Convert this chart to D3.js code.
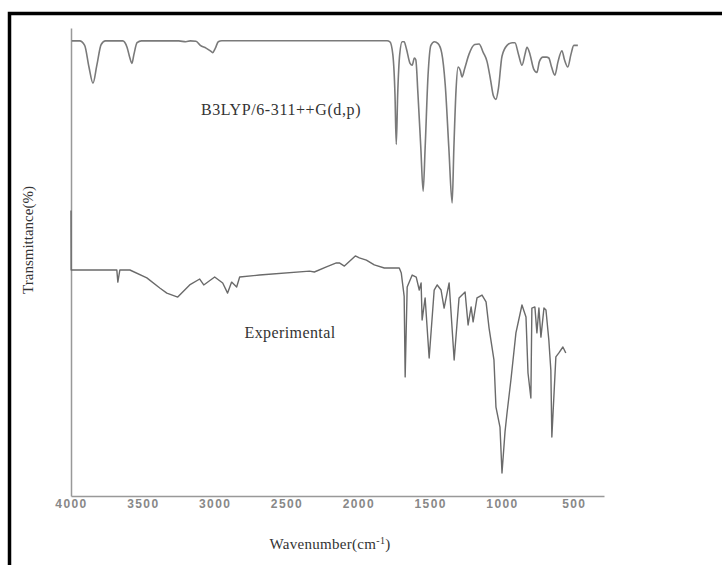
<!DOCTYPE html>
<html>
<head>
<meta charset="utf-8">
<script src="https://cdn.jsdelivr.net/npm/d3@7"></script>
<style>
  body { margin: 0; background: #fff; }
  .tick text { font-family: "Liberation Sans", Arial, sans-serif; font-weight: bold; font-size: 12px; letter-spacing: 1.4px; fill: #888; }
  .lbl { font-family: "Liberation Serif", "Times New Roman", serif; fill: #333; }
</style>
</head>
<body>
<script>
// wavenumber ticks
var xTicks = [4000, 3500, 3000, 2500, 2000, 1500, 1000, 500];

// B3LYP/6-311++G(d,p) computed spectrum: wavenumber, transmittance (%)
var calcWn = [3995, 3940, 3905, 3875, 3847, 3820, 3790, 3760, 3640, 3610, 3590, 3576, 3562, 3540, 3510,
  3250, 3200, 3170, 3130, 3100, 3060, 3030, 3014, 2995, 2975, 2950, 1800,
  1780, 1760, 1745, 1736, 1726, 1712, 1695, 1681, 1665, 1640, 1625, 1610, 1600, 1585, 1565, 1549, 1535, 1515, 1495,
  1470, 1445, 1420, 1395, 1370, 1347, 1335, 1320, 1306, 1290, 1278, 1260, 1230, 1190, 1160, 1130, 1104, 1080, 1060,
  1042, 1025, 1000, 965, 930, 910, 885, 861, 840, 826, 805, 780, 757, 740, 715, 690, 674, 655, 632, 610, 583, 565,
  542, 520, 500, 472];
var calcT = [99.5, 99.5, 97, 85, 76, 86, 97.5, 99.5, 99.5, 96, 90, 87, 92, 98.5, 99.5,
  99.5, 99, 99.5, 99.3, 97, 95.5, 94, 93, 95.5, 99, 99.6, 99.6,
  99, 92, 70, 42, 70, 92, 99, 99, 95, 87, 86, 90, 89, 70, 40, 16, 40, 80, 97,
  99, 98, 93, 75, 40, 9.5, 40, 72, 85, 83, 79.5, 84, 92, 97.5, 97.8, 93, 88, 78, 69,
  67, 73, 91, 97, 98.5, 98.5, 92, 86, 92, 96, 92, 84, 82, 88, 90.5, 90.5, 90, 85, 80.5, 88, 94, 89,
  85, 92, 97, 97];

// experimental spectrum: wavenumber, transmittance (%)
var expWn = [4000, 3999, 3993, 3681, 3674, 3660, 3590, 3472, 3382, 3333, 3257, 3174, 3104, 3076, 3000, 2944,
  2910, 2882, 2847, 2826, 2688, 2340, 2306, 2222, 2153, 2132, 2097, 2021, 1993, 1944, 1889, 1819, 1715,
  1701, 1681, 1674, 1660, 1625, 1597, 1576, 1563, 1556, 1535, 1507, 1472, 1451, 1424, 1403, 1368, 1333,
  1299, 1257, 1236, 1215, 1201, 1174, 1139, 1111, 1090, 1056, 1042, 1014, 1000, 979, 965, 938, 903, 861,
  833, 819, 799, 792, 771, 757, 743, 729, 708, 694, 674, 660, 653, 625, 604, 576, 556];
var expT = [127, 100, 100, 100, 94.5, 100, 100, 96.4, 91.8, 89.5, 87.7, 93.2, 95.9, 93.2, 96.8, 94.1,
  89.5, 94.5, 92.3, 96.8, 97.7, 99.5, 99.1, 101.4, 103.2, 103.2, 101.8, 106.4, 105.5, 104.5, 102.3, 100.9, 100.9,
  98.6, 88, 51.4, 92.3, 97.7, 96.8, 90.9, 94.1, 77.3, 87.3, 60, 90.9, 93.2, 90.9, 82.7, 94.1, 59.1,
  87.3, 90, 75, 83.2, 76.4, 87.3, 88.6, 85.5, 73.6, 59.1, 37.7, 28.6, 7.7, 26.4, 35, 50, 71.4, 84.1,
  78.6, 53.2, 41.8, 82.7, 83.2, 71.4, 82.7, 69.5, 82.7, 81.8, 68.2, 54.5, 24.1, 60.5, 62.3, 65, 62.3];

var width = 722, height = 565;
var svg = d3.select("body").append("svg")
    .attr("width", width)
    .attr("height", height);

// frame round the picture
svg.append("rect")
    .attr("x", 9.5).attr("y", 13.5)
    .attr("width", 900).attr("height", 900)
    .attr("fill", "none")
    .attr("stroke", "#000")
    .attr("stroke-width", 3.5);

var x = d3.scaleLinear().domain([4000, 290]).range([71, 604]);
var yFrame = d3.scaleLinear().domain([0, 1]).range([496, 28]);
var yCalc = d3.scaleLinear().domain([0, 100]).range([220, 40]);
var yExp = d3.scaleLinear().domain([0, 100]).range([490, 270]);

// axes
var xAxis = svg.append("g")
    .attr("transform", "translate(0,496)")
    .call(d3.axisBottom(x).tickValues(xTicks).tickFormat(d3.format("d")).tickSize(0).tickPadding(3));
xAxis.select(".domain").attr("stroke", "#999").attr("stroke-width", 1.5);

var yAxis = svg.append("g")
    .attr("transform", "translate(71,0)")
    .call(d3.axisLeft(yFrame).tickValues([]).tickSizeOuter(0));
yAxis.select(".domain").attr("stroke", "#999").attr("stroke-width", 1.5);

// spectra
var calcLine = d3.line()
    .x(function(d, i) { return x(calcWn[i]); })
    .y(function(d) { return yCalc(d); })
    .curve(d3.curveMonotoneX);

svg.append("path")
    .datum(calcT)
    .attr("d", calcLine)
    .attr("fill", "none")
    .attr("stroke", "#7a7a7a")
    .attr("stroke-width", 1.6);

var expLine = d3.line()
    .x(function(d, i) { return x(expWn[i]); })
    .y(function(d) { return yExp(d); });

svg.append("path")
    .datum(expT)
    .attr("d", expLine)
    .attr("fill", "none")
    .attr("stroke", "#6a6a6a")
    .attr("stroke-width", 1.4)
    .attr("stroke-linejoin", "round");

// labels
svg.append("text").attr("class", "lbl")
    .attr("x", 281).attr("y", 115)
    .attr("text-anchor", "middle")
    .style("font-size", "16px")
    .style("letter-spacing", "0.6px")
    .text("B3LYP/6-311++G(d,p)");

svg.append("text").attr("class", "lbl")
    .attr("x", 290).attr("y", 338)
    .attr("text-anchor", "middle")
    .style("font-size", "16px")
    .style("letter-spacing", "0.4px")
    .text("Experimental");

var xt = svg.append("text").attr("class", "lbl")
    .attr("x", 330).attr("y", 549)
    .attr("text-anchor", "middle")
    .style("font-size", "15px")
    .style("letter-spacing", "0.3px")
    .text("Wavenumber(cm");
xt.append("tspan").attr("dy", -5).style("font-size", "10px").text("-1");
xt.append("tspan").attr("dy", 5).text(")");

svg.append("text").attr("class", "lbl")
    .attr("transform", "translate(33,240) rotate(-90)")
    .attr("text-anchor", "middle")
    .style("font-size", "15px")
    .text("Transmittance(%)");
</script>
</body>
</html>
